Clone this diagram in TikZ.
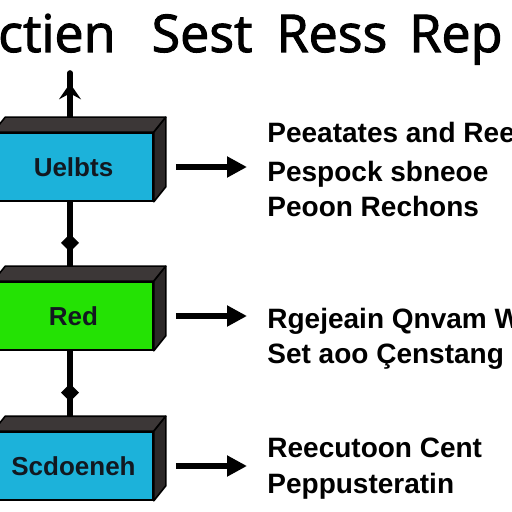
\documentclass[tikz,border=0pt]{standalone}
\usepackage{fontspec}
\setmainfont{Liberation Sans}
\newfontfamily\titlefont[FakeBold=2]{Open Sans}
\usetikzlibrary{arrows.meta, decorations.markings, positioning}
\definecolor{boxcyan}{RGB}{28,178,218}
\definecolor{boxgreen}{RGB}{36,226,4}
\definecolor{facedark}{RGB}{60,55,55}
\definecolor{sidedark}{RGB}{44,40,40}
\definecolor{labelink}{RGB}{18,24,32}

\begin{document}
\begin{tikzpicture}[x=0.5pt, y=-0.5pt,
  frontstyle/.style = {rectangle, draw=black, line width=0.8pt, minimum width=79.5pt, minimum height=34pt, inner sep=0pt, font=\fontsize{13}{15}\selectfont\bfseries, text=labelink},
  topface/.style = {draw=black, line width=0.8pt, fill=facedark, line join=round},
  sideface/.style = {draw=black, line width=0.8pt, fill=sidedark, line join=round},
  spine/.style = {line width=2.8pt, line cap=round, postaction={decorate}},
  flowarrow/.style = {line width=2.6pt, -{Triangle[length=10pt, width=10pt]}, shorten <=11pt, shorten >=10pt},
  desc/.style = {anchor=base west, inner sep=0pt, font=\fontsize{14}{16}\selectfont\bfseries}]
  \useasboundingbox (0,0) rectangle (512,512);

  % title
  \node[anchor=base east, inner sep=0pt, font=\titlefont\fontsize{26}{30}\selectfont] (title) at (503,52) {ectien\hspace{18pt}Sest\hspace{12pt}Ress\hspace{11pt}Rep};

  % spine
  \coordinate (vtop) at (70,73);
  \coordinate (b1c) at (73.5,167);
  \coordinate (b2c) at (73.5,316);
  \coordinate (b3c) at (73.5,466);
  \draw[spine, decoration={markings, mark=at position 0.89 with {\arrow{Stealth[length=8pt, width=11pt, inset=3pt]}}}] (vtop |- b1c) -- (vtop);
  \draw[spine, decoration={markings, mark=at position 0.57 with {\arrow{Turned Square[length=9pt, width=9pt]}}}] (vtop |- b1c) -- (vtop |- b2c);
  \draw[spine, decoration={markings, mark=at position 0.57 with {\arrow{Turned Square[length=9pt, width=9pt]}}}] (vtop |- b2c) -- (vtop |- b3c);

  % box 1
  \node[frontstyle, fill=boxcyan] (b1) at (b1c) {Uelbts};
  \draw[topface] (b1.north west) -- ++(12,-15) -- ([shift={(12,-15)}]b1.north east) -- (b1.north east) -- cycle;
  \draw[sideface] (b1.north east) -- ++(12,-15) -- ([shift={(12,-15)}]b1.south east) -- (b1.south east) -- cycle;

  % box 2
  \node[frontstyle, fill=boxgreen] (b2) at (b2c) {Red};
  \draw[topface] (b2.north west) -- ++(12,-15) -- ([shift={(12,-15)}]b2.north east) -- (b2.north east) -- cycle;
  \draw[sideface] (b2.north east) -- ++(12,-15) -- ([shift={(12,-15)}]b2.south east) -- (b2.south east) -- cycle;

  % box 3
  \node[frontstyle, fill=boxcyan] (b3) at (b3c) {Scdoeneh};
  \draw[topface] (b3.north west) -- ++(12,-15) -- ([shift={(12,-15)}]b3.north east) -- (b3.north east) -- cycle;
  \draw[sideface] (b3.north east) -- ++(12,-15) -- ([shift={(12,-15)}]b3.south east) -- (b3.south east) -- cycle;

  % texts
  \node[desc] (t11) at (267,143) {Peeatates and Ree};
  \node[desc] (t12) at (267,182) {Pespock sbneoe};
  \node[desc] (t13) at (267,217) {Peoon Rechons};
  \node[desc] (t21) at (267,328) {Rgejeain Qnvam W};
  \node[desc] (t22) at (267,363) {Set aoo Çenstang};
  \node[desc] (t31) at (267,457) {Reecutoon Cent};
  \node[desc] (t32) at (267,493) {Peppusteratin};

  % arrows
  \draw[flowarrow] (b1.east) -- (b1.east -| t12.west);
  \draw[flowarrow] (b2.east) -- (b2.east -| t21.west);
  \draw[flowarrow] (b3.east) -- (b3.east -| t31.west);

\end{tikzpicture}
\end{document}
